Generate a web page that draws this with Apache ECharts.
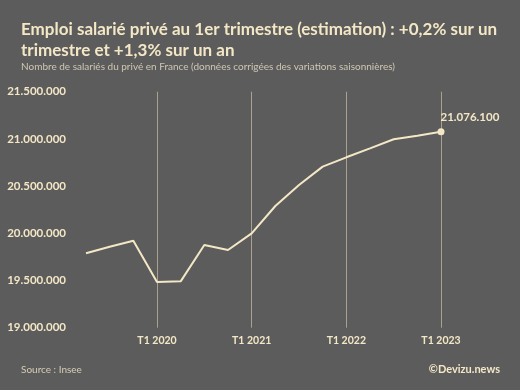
<!DOCTYPE html>
<html><head><meta charset="utf-8">
<script src="https://cdn.jsdelivr.net/npm/echarts@6/dist/echarts.min.js"></script>
<style>html,body{margin:0;padding:0;background:#5c5c5c;}#c{width:520px;height:390px;}</style>
</head><body><div id="c"></div>
<script>
const categories = ['T2 2019','T3 2019','T4 2019','T1 2020','T2 2020','T3 2020','T4 2020','T1 2021','T2 2021','T3 2021','T4 2021','T1 2022','T2 2022','T3 2022','T4 2022','T1 2023'];
const values = [19788000,19858000,19922000,19484000,19491000,19876000,19823000,19999000,20289000,20512000,20706000,20805000,20900000,20996000,21034000,21076100];
const yTicks = [19000000,19500000,20000000,20500000,21000000,21500000];

const cream = '#f3e7c6';
const fmt = v => String(Math.round(v)).replace(/\B(?=(\d{3})+(?!\d))/g, '.');
const isT1 = (i, v) => /^T1/.test(v || categories[i]);
const font = 'Lato';

const chart = echarts.init(document.getElementById('c'), null, {renderer:'canvas'});
chart.setOption({
  backgroundColor: '#5c5c5c',
  animation: false,
  title: [
    {text: 'Emploi salarié privé au 1er trimestre (estimation) : +0,2% sur un\ntrimestre et +1,3% sur un an', left: 16, top: 14,
     textStyle: {color: cream, fontFamily: font, fontWeight: 'bold', fontSize: 17, lineHeight: 21}},
    {text: 'Nombre de salariés du privé en France (données corrigées des variations saisonnières)', left: 16, top: 57,
     textStyle: {color: '#cfc7b3', fontFamily: font, fontWeight: 'normal', fontSize: 10}},
    {text: 'Source : Insee', left: 16, top: 360,
     textStyle: {color: '#d6cdb6', fontFamily: font, fontWeight: 'normal', fontSize: 10}},
    {text: '©Devizu.news', right: 15, top: 359,
     textStyle: {color: cream, fontFamily: font, fontWeight: 'bold', fontSize: 11}}
  ],
  grid: {left: 86, right: 79, top: 91.7, bottom: 62.3, containLabel: false},
  xAxis: {
    type: 'category', data: categories, boundaryGap: false,
    axisLine: {show: false}, axisTick: {show: false},
    axisLabel: {interval: (i, v) => isT1(i, v), color: cream, fontFamily: font, fontWeight: 'bold', fontSize: 10.5, margin: 7},
    splitLine: {show: true, interval: (i, v) => isT1(i, v), lineStyle: {color: '#aaa28e', width: 1}}
  },
  yAxis: {
    type: 'value', min: yTicks[0], max: yTicks[yTicks.length-1], interval: 500000,
    axisLine: {show: false}, axisTick: {show: false}, splitLine: {show: false},
    axisLabel: {formatter: fmt, color: cream, fontFamily: font, fontWeight: 'bold', fontSize: 11.5, margin: 20}
  },
  series: [{
    type: 'line', data: values.map((v, i) => i === values.length - 1 ? {value: v, symbol: 'circle', symbolSize: 7,
      label: {show: true, position: [3, -17], formatter: p => fmt(p.value), color: cream, fontFamily: font, fontWeight: 'bold', fontSize: 11.5}} : v),
    showSymbol: true, symbol: 'none', lineStyle: {color: cream, width: 2}, itemStyle: {color: cream}
  }]
});
</script></body></html>
